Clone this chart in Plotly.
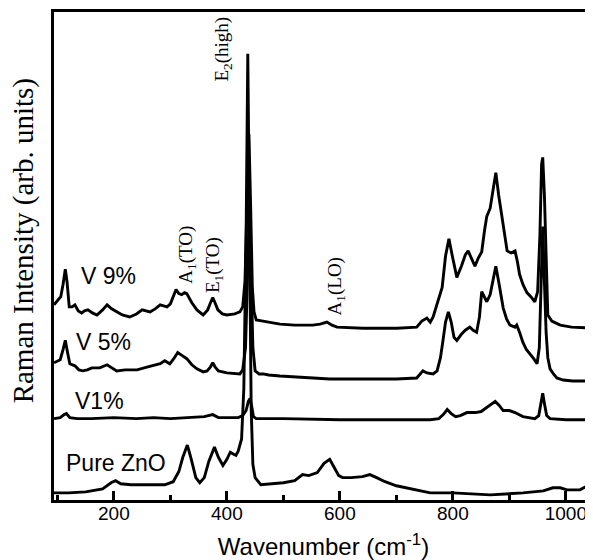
import plotly.graph_objects as go

# ---- data (wavenumber in cm^-1, intensity in arb. units) ----
pure_wn = [94,120,150,180,195,203,212,230,260,290,305,315,322,330,337,345,352,360,368,378,385,393,400,406,412,416,420,426,430,434,437,440,443,446,450,460,480,500,520,534,545,560,572,582,590,598,605,620,640,653,665,680,700,718,740,760,800,866,924,960,977,990,1002,1025,1035,1048]
pure_I = [7,7,8,11,17,19,16,15,15,15,18,28,42,54,40,22,17,22,38,52,42,34,40,47,45,44,48,60,110,260,439,270,90,35,22,15,16,17,19,25,24,27,36,40,32,24,22,22,23,25,22,18,14,12,9,7,7,5,7,9,12,12,10,10,13,19]

v1_wn = [94,105,112,116,122,135,160,200,240,270,300,330,360,375,385,400,420,428,434,438,441,444,447,452,500,600,700,760,775,783,790,797,805,813,825,840,850,860,868,875,882,889,900,910,924,945,952,956,959,962,966,972,1000,1048]
v1_I = [80,81,84,85,81,80,80,81,80,81,80,81,82,84,81,81,81,83,88,97,100,92,82,80,80,79,79,79,80,84,89,85,82,83,86,86,87,91,94,97,93,88,88,86,82,80,83,95,105,95,83,80,79,79]

v5_wn = [94,105,110,114,118,122,131,138,145,153,161,175,188,196,205,220,241,260,282,290,299,306,313,321,329,338,347,358,365,371,375,379,385,400,415,423,428,433,437,440,443,446,450,457,464,474,494,520,550,582,620,660,700,736,747,754,765,772,778,782,787,792,797,802,807,815,822,830,836,842,847,851,855,860,866,871,876,881,885,889,895,901,910,913,918,924,930,936,943,949,953,956,959,962,965,968,972,978,984,995,1012,1048]
v5_I = [135,138,148,157,145,134,132,128,127,128,130,130,133,130,127,128,128,131,134,137,134,139,145,142,139,133,129,126,127,131,135,131,127,125,124,124,128,150,230,290,220,150,127,124,124,123,122,121,120,119,119,119,119,120,127,125,124,127,140,155,175,185,175,160,157,163,167,170,167,165,180,205,200,195,202,215,230,215,200,189,178,172,170,172,165,155,148,144,139,134,150,210,269,215,165,140,129,124,120,118,117,117]

v9_wn = [94,100,106,110,114,117,121,126,131,137,143,148,154,162,170,180,188,196,205,215,228,240,250,258,264,273,282,288,294,300,305,310,315,320,325,329,338,347,358,366,371,375,379,384,392,400,414,423,428,432,436,439,442,445,448,452,464,480,494,520,552,565,577,586,595,641,701,736,745,754,760,765,772,781,787,793,799,807,815,822,827,833,839,845,851,856,860,866,871,876,881,887,892,896,903,910,914,918,924,931,938,945,950,954,957,959,962,965,968,975,990,1010,1048]
v9_I = [192,196,200,212,227,215,190,190,192,186,184,186,187,184,182,187,192,188,185,182,180,183,187,186,185,188,192,191,190,193,200,207,203,202,204,203,194,187,182,187,194,199,194,187,183,182,183,185,190,215,300,360,290,210,185,177,176,174,173,172,172,173,175,172,170,169,169,170,176,179,175,180,192,209,240,257,240,219,230,241,245,237,230,238,244,265,279,287,305,322,300,279,262,245,243,245,235,222,212,204,200,195,205,260,330,337,300,230,182,176,172,170,169]

series = [("Pure ZnO", pure_wn, pure_I), ("V1%", v1_wn, v1_I), ("V 5%", v5_wn, v5_I), ("V 9%", v9_wn, v9_I)]

x_ticks = [200, 400, 600, 800, 1000]
x_range = [94, 1048]
y_range = [0, 480]

fig = go.Figure()
for name, xs, ys in series:
    fig.add_trace(go.Scatter(x=xs, y=ys, mode="lines", name=name,
                             line=dict(color="black", width=2.9), showlegend=False))

sans = "Liberation Sans, Arial, sans-serif"
serif = "Liberation Serif, Times New Roman, serif"

# sample labels
sample_labels = [("V 9%", 190, 220), ("V 5%", 182, 155), ("V1%", 175, 97), ("Pure ZnO", 203, 36)]
for txt, x, y in sample_labels:
    fig.add_annotation(x=x, y=y, text=txt, showarrow=False, xref="x", yref="y",
                       font=dict(family=sans, size=23, color="black"))

# peak labels (rotated)
peak_labels = [("E<sub>2</sub>(high)", 393, 444), ("A<sub>1</sub>(TO)", 329, 241),
               ("E<sub>1</sub>(TO)", 377, 231), ("A<sub>1</sub>(LO)", 593, 210)]
for txt, x, y in peak_labels:
    fig.add_annotation(x=x, y=y, text=txt, showarrow=False, textangle=-90,
                       xref="x", yref="y", font=dict(family=serif, size=19, color="black"))

# y-axis title
fig.add_annotation(xref="paper", yref="paper", x=0, y=0.53, xshift=-31, textangle=-90,
                   xanchor="center", yanchor="middle",
                   text="Raman Intensity (arb. units)", showarrow=False,
                   font=dict(family=serif, size=29, color="black"))

# page body has an 8px margin: figure is sized/offset so the plot area lands at
# x 54..593, y 12..492 of the window
fig.update_layout(
    width=585, height=552,
    margin=dict(l=46, r=0, t=4, b=60),
    plot_bgcolor="white", paper_bgcolor="white",
    xaxis=dict(range=x_range, tickvals=x_ticks, ticks="inside", ticklen=9, tickwidth=2.5,
               tickcolor="black", showline=True, linewidth=3, linecolor="black", mirror=True,
               showgrid=False, zeroline=False,
               tickfont=dict(family=sans, size=19, color="black"),
               ticklabelstandoff=-6,
               minor=dict(dtick=100, tick0=0, ticks="inside", ticklen=5, tickwidth=2.5, tickcolor="black"),
               title=dict(text="Wavenumber (cm<sup>-1</sup>)", font=dict(family=sans, size=24, color="black"),
                          standoff=16)),
    yaxis=dict(range=y_range, showticklabels=False, ticks="", showline=True, linewidth=3,
               linecolor="black", showgrid=False, zeroline=False, mirror=False),
)

fig.write_html("out.html")
